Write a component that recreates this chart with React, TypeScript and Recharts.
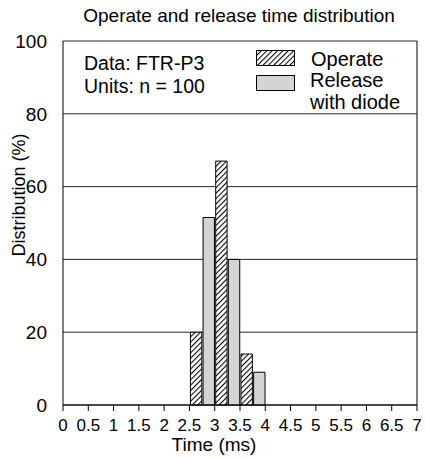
import { BarChart, Bar, XAxis, YAxis, CartesianGrid, ReferenceLine } from 'recharts'

// histogram bins are 0.25 ms wide, from 0 to 7 ms
const binWidth = 0.25
const binCount = 28

const operateBins = [2.5, 3.0, 3.5]
const operateValues = [20, 67, 14]

const releaseBins = [2.75, 3.25, 3.75]
const releaseValues = [51.5, 40, 9]

const timeTicks = [0, 0.5, 1, 1.5, 2, 2.5, 3, 3.5, 4, 4.5, 5, 5.5, 6, 6.5, 7]
const distTicks = [0, 20, 40, 60, 80, 100]

const font = '"Liberation Sans", Arial, sans-serif'
const W = 425
const H = 459
const margin = { top: 41, right: 8, left: 0, bottom: 24 }
const yAxisWidth = 63
const plotWidth = W - margin.left - margin.right - yAxisWidth

const data = Array.from({ length: binCount }, (_, i) => {
  const start = i * binWidth
  const oi = operateBins.indexOf(start)
  const ri = releaseBins.indexOf(start)
  return {
    mid: start + binWidth / 2,
    operate: oi >= 0 ? operateValues[oi] : null,
    release: ri >= 0 ? releaseValues[ri] : null,
  }
})

const HatchDefs = () => (
  <svg width={0} height={0} style={{ position: 'absolute' }}>
    <defs>
      <pattern id="hatch" width={3.8} height={3.8} patternUnits="userSpaceOnUse" patternTransform="rotate(45)">
        <rect width={3.8} height={3.8} fill="#fff" />
        <line x1={0.5} y1={0} x2={0.5} y2={3.8} stroke="#000" strokeWidth={1.1} />
      </pattern>
    </defs>
  </svg>
)

const note = { position: 'absolute', left: 84, fontSize: 19.5, whiteSpace: 'nowrap' } as const
const legendText = { position: 'absolute', left: 310, fontSize: 20, lineHeight: '21px', whiteSpace: 'nowrap' } as const

export default function App() {
  return (
    <div style={{ position: 'absolute', left: 0, top: 0, width: W, height: H, background: '#fff', fontFamily: font }}>
      <HatchDefs />
      <BarChart width={W} height={H} data={data} margin={margin} barCategoryGap={0} barGap={0}>
        <CartesianGrid vertical={false} stroke="#000" strokeOpacity={0.85} />
        <XAxis
          dataKey="mid"
          type="number"
          domain={[0, 7]}
          ticks={timeTicks}
          interval={0}
          height={30}
          stroke="#000"
          tickSize={6}
          tickMargin={8}
          tick={{ fill: '#000', fontSize: 17, fontFamily: font }}
        />
        <YAxis
          domain={[0, 100]}
          ticks={distTicks}
          width={yAxisWidth}
          stroke="#000"
          tickLine={false}
          tickMargin={10}
          tick={{ fill: '#000', fontSize: 19, fontFamily: font }}
        />
        <ReferenceLine x={7} stroke="#000" />
        <Bar
          dataKey="operate"
          stackId="a"
          barSize={plotWidth / binCount}
          fill="url(#hatch)"
          stroke="#000"
          strokeWidth={1}
          isAnimationActive={false}
        />
        <Bar
          dataKey="release"
          stackId="a"
          barSize={plotWidth / binCount}
          fill="#d4d4d6"
          stroke="#000"
          strokeWidth={1}
          isAnimationActive={false}
        />
      </BarChart>

      <div style={{ position: 'absolute', left: 0, width: 478, top: 5, textAlign: 'center', fontSize: 19 }}>
        Operate and release time distribution
      </div>
      <div style={{ ...note, top: 52 }}>Data: FTR-P3</div>
      <div style={{ ...note, top: 74.5 }}>Units: n = 100</div>
      <svg style={{ position: 'absolute', left: 256, top: 50 }} width={40} height={42}>
        <rect x={0.5} y={0.5} width={38} height={15} fill="url(#hatch)" stroke="#000" />
        <rect x={0.5} y={25.5} width={38} height={15} fill="#d4d4d6" stroke="#000" />
      </svg>
      <div style={{ ...legendText, left: 311, top: 49 }}>Operate</div>
      <div style={{ ...legendText, top: 70 }}>Release</div>
      <div style={{ ...legendText, top: 92 }}>with diode</div>
      <div
        style={{
          position: 'absolute',
          left: 19,
          top: 195,
          fontSize: 18,
          whiteSpace: 'nowrap',
          transform: 'translate(-50%, -50%) rotate(-90deg)',
        }}
      >
        Distribution (%)
      </div>
      <div style={{ position: 'absolute', left: 164, width: 100, top: 434, textAlign: 'center', fontSize: 19 }}>
        Time (ms)
      </div>
    </div>
  )
}
